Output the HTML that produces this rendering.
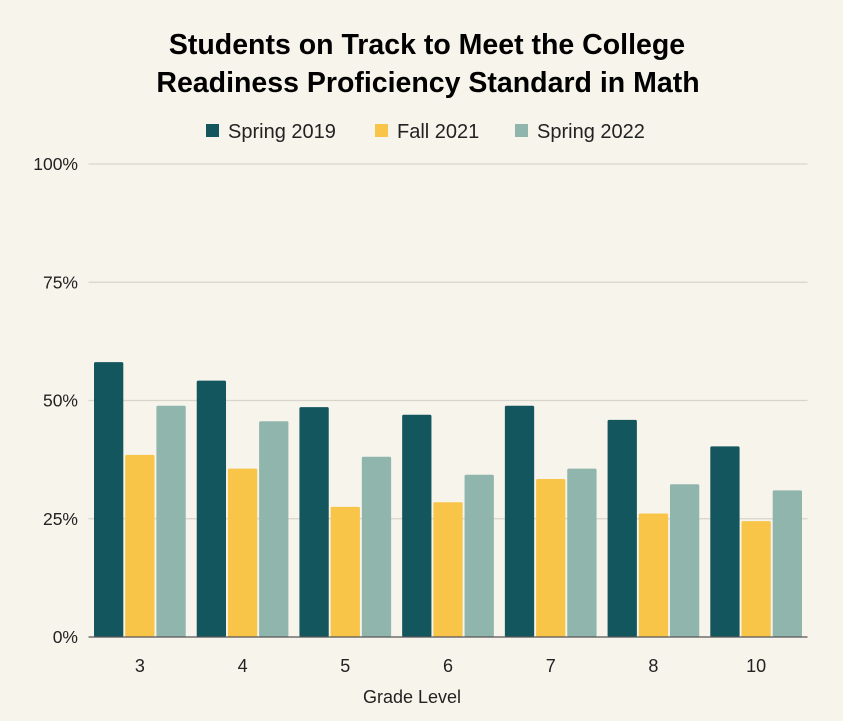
<!DOCTYPE html>
<html><head><meta charset="utf-8">
<style>
body{margin:0;background:#f7f4ec;}
svg{display:block;font-family:"Liberation Sans","DejaVu Sans",sans-serif;}
</style></head>
<body>
<svg id="chart" width="843" height="721" viewBox="0 0 843 721">
<rect width="843" height="721" fill="#f7f4ec"/>
<text x="427" y="54" text-anchor="middle" font-size="28.5" font-weight="bold" fill="#000">Students on Track to Meet the College</text>
<text x="428" y="92" text-anchor="middle" font-size="28.5" font-weight="bold" fill="#000">Readiness Proficiency Standard in Math</text>
<g>
<rect x="206" y="124" width="13" height="13" fill="#14565e"/>
<text x="228" y="138" font-size="20" fill="#222">Spring 2019</text>
<rect x="375" y="124" width="13" height="13" fill="#f8c549"/>
<text x="397" y="138" font-size="20" fill="#222">Fall 2021</text>
<rect x="515" y="124" width="13" height="13" fill="#8fb5ac"/>
<text x="537" y="138" font-size="20" fill="#222">Spring 2022</text>
</g>
<g id="grid"></g>
<g id="bars"></g>
<g id="xlabels"></g>
<text x="412" y="703" text-anchor="middle" font-size="18" fill="#222">Grade Level</text>
</svg>
<script>
const categories = ["3","4","5","6","7","8","10"];
const spring2019 = [58.1,54.2,48.6,47.0,48.9,45.9,40.3];
const fall2021 = [38.5,35.6,27.5,28.5,33.4,26.1,24.5];
const spring2022 = [48.9,45.6,38.1,34.3,35.6,32.3,31.0];
const yTicks = [0,25,50,75,100];
const yTickLabels = ["0%","25%","50%","75%","100%"];

const NS="http://www.w3.org/2000/svg";
const left=88.5,right=807.5,y0=637,y100=164;
const band=(right-left)/categories.length;
function y(v){return y0-(y0-y100)*v/100;}
function mk(tag,attrs,parent){const e=document.createElementNS(NS,tag);for(const k in attrs)e.setAttribute(k,attrs[k]);parent.appendChild(e);return e;}
const grid=document.getElementById('grid');
yTicks.forEach((t,i)=>{
  if(t>0){const l=mk('line',{x1:left,x2:right,y1:y(t),y2:y(t),stroke:'#d8d5cd','stroke-width':1.3},grid);
  
  }
  const tx=mk('text',{x:78,y:y(t)+6,'text-anchor':'end','font-size':17.5,fill:'#222'},grid);
  tx.textContent=yTickLabels[i];
  
  
});
const bars=document.getElementById('bars');
const series=[["spring-2019",spring2019,"#14565e"],["fall-2021",fall2021,"#f8c549"],["spring-2022",spring2022,"#8fb5ac"]];
const bw=29.3,step=31.2;
categories.forEach((c,i)=>{
  const cx=left+band*(i+0.5);
  series.forEach((s,j)=>{
    const x=cx+(j-1)*step-bw/2;
    const r=mk('rect',{x:x,y:y(s[1][i]),width:bw,height:y0-y(s[1][i]),fill:s[2],rx:1.5},bars);
    
    
  });
  const t=mk('text',{x:cx,y:672,'text-anchor':'middle','font-size':18,fill:'#222'},document.getElementById('xlabels'));
  t.textContent=c;
  
  
});
const ax=mk('line',{x1:left,x2:right,y1:y0,y2:y0,stroke:'#555','stroke-width':1.3},bars);


</script>
</body></html>
